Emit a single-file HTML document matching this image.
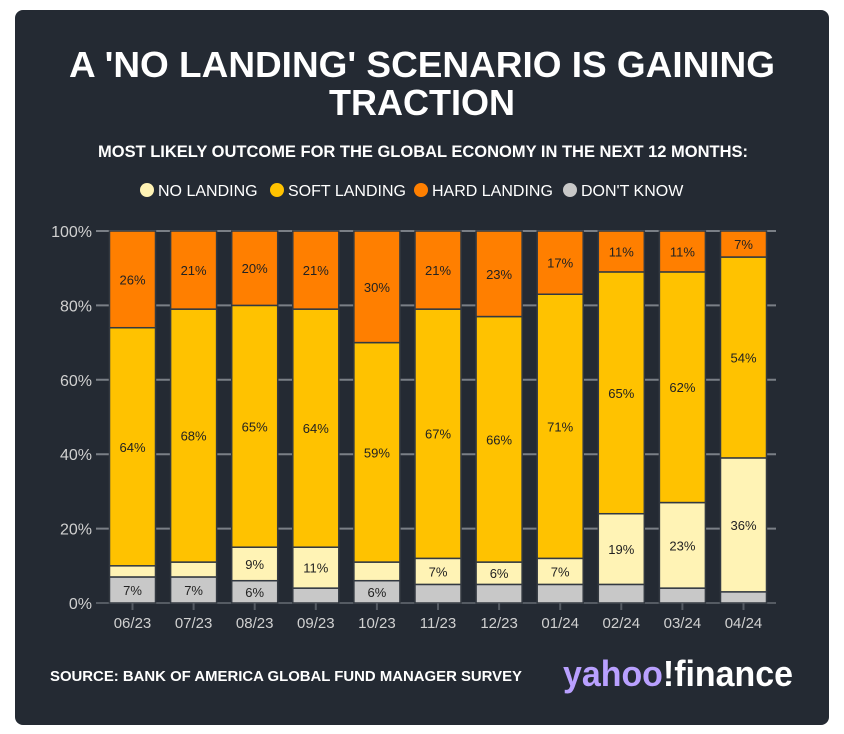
<!DOCTYPE html>
<html><head><meta charset="utf-8"><style>
body{margin:0;width:844px;height:734px;background:#fff;overflow:hidden;font-family:"Liberation Sans",sans-serif}
#card{position:absolute;left:15px;top:10px;width:814px;height:715px;background:#242a33;border-radius:8px}
</style></head><body>
<div id="card"></div>
<svg id="svg" width="844" height="734" style="position:absolute;left:0;top:0">
<text x="69" y="77" textLength="706" lengthAdjust="spacingAndGlyphs" fill="#fff" font-size="36" font-weight="bold">A 'NO LANDING' SCENARIO IS GAINING</text>
<text x="422" y="115" text-anchor="middle" fill="#fff" font-size="36" font-weight="bold">TRACTION</text>
<text x="98" y="157" textLength="650" lengthAdjust="spacingAndGlyphs" fill="#fff" font-size="17" font-weight="bold">MOST LIKELY OUTCOME FOR THE GLOBAL ECONOMY IN THE NEXT 12 MONTHS:</text>
<g id="legend"></g>
<g id="plot"></g>
<text x="50" y="681" textLength="472" lengthAdjust="spacingAndGlyphs" fill="#fff" font-size="14.5" font-weight="bold">SOURCE: BANK OF AMERICA GLOBAL FUND MANAGER SURVEY</text>
<text x="563" y="686" textLength="230" lengthAdjust="spacingAndGlyphs" fill="#b9a0ff" font-size="36" font-weight="bold">yahoo<tspan fill="#ffffff">!finance</tspan></text>
</svg>
<script>
const categories=["06/23","07/23","08/23","09/23","10/23","11/23","12/23","01/24","02/24","03/24","04/24"];
const dontKnow=[7,7,6,4,6,5,5,5,5,4,3];
const noLanding=[3,4,9,11,5,7,6,7,19,23,36];
const softLanding=[64,68,65,64,59,67,66,71,65,62,54];
const hardLanding=[26,21,20,21,30,21,23,17,11,11,7];
const yTicks=[0,20,40,60,80,100];
const NS="http://www.w3.org/2000/svg";
const plot=document.getElementById('plot');
const y0=603,y1=231,xl=96,xr=776,step=61.1,x0=132.5,bw=46;
const y=v=>y0-(y0-y1)*v/100;
const x=i=>x0+i*step;
function mk(tag,attrs,parent){const e=document.createElementNS(NS,tag);for(const k in attrs)e.setAttribute(k,attrs[k]);(parent||plot).appendChild(e);return e;}
yTicks.forEach(t=>{
 const l=mk('line',{x1:xl,x2:xr,y1:y(t),y2:y(t),stroke:t===0?'#555b63':'#7a7f86','stroke-width':2});
 
 
 const tx=mk('text',{x:92,y:y(t)+6,'text-anchor':'end',fill:'#d0d0d0','font-size':16});
 tx.textContent=t+'%';
 
 
});
const series=[["dont-know",dontKnow,"#c8c8c8"],["no-landing",noLanding,"#fff3b5"],["soft-landing",softLanding,"#ffc200"],["hard-landing",hardLanding,"#ff7f00"]];
categories.forEach((c,i)=>{
 let acc=0;
 series.forEach(([name,arr,col])=>{
  const v=arr[i];
  const r=mk('rect',{x:x(i)-bw/2,y:y(acc+v),width:bw,height:y(acc)-y(acc+v),fill:col,stroke:'#333941','stroke-width':1.5});
  
  
  if(v>=6){
   const t=mk('text',{x:x(i),y:(y(acc)+y(acc+v))/2+5,'text-anchor':'middle',fill:'#222','font-size':13});
   t.textContent=v+'%';
   
   
  }
  acc+=v;
 });
 const tk=mk('line',{x1:x(i),x2:x(i),y1:y0,y2:y0+7,stroke:'#555b63','stroke-width':2});
 
 
 const lt=mk('text',{x:x(i),y:628,'text-anchor':'middle',fill:'#d0d0d0','font-size':15});
 lt.textContent=c;
 
 
});
const leg=document.getElementById('legend');
const legItems=[["NO LANDING","#fff3b5",147],["SOFT LANDING","#ffc200",277],["HARD LANDING","#ff7f00",421],["DON'T KNOW","#c8c8c8",570]];
legItems.forEach(([lab,col,lx])=>{
 const c=mk('circle',{cx:lx,cy:190,r:7,fill:col},leg);
 
 
 const t=mk('text',{x:lx+11,y:196,fill:'#fff','font-size':16},leg);
 t.textContent=lab;
 
 
});
</script>
</body></html>
